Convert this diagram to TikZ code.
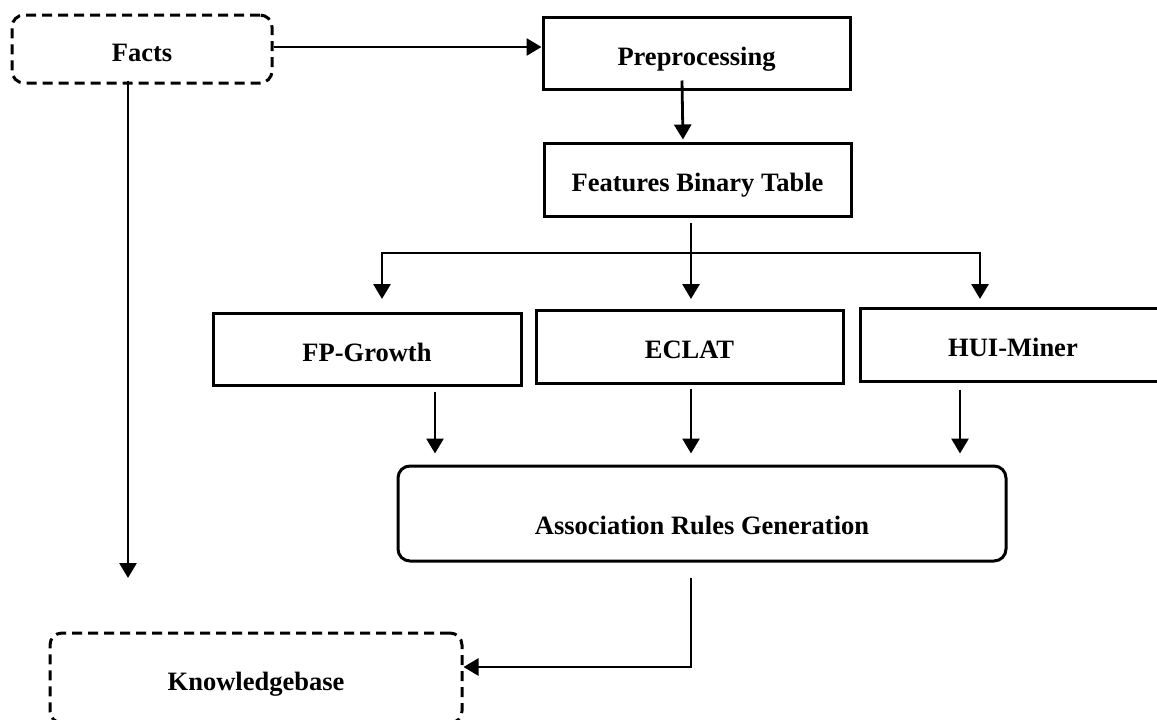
\documentclass[tikz,border=0pt]{standalone}
\usepackage{fontspec}
\setmainfont{Liberation Serif}
\usetikzlibrary{arrows.meta,calc}
\begin{document}
\begin{tikzpicture}[x=1pt,y=-1pt,
  every node/.style={font=\fontsize{26.5}{30}\selectfont\bfseries,text height=24pt,text depth=0pt},
  box/.style={draw,line width=3pt,rectangle,inner sep=0pt},
  dbox/.style={box,rounded corners=12pt,dash pattern=on 10pt off 6pt},
  rbox/.style={box,rounded corners=12pt},
  line/.style={line width=2.8pt},
  arr/.style={line,-{Triangle[length=15pt,width=17pt]}}]
\useasboundingbox (0,0) rectangle (1157,720);
% nodes
\node[dbox,minimum width=260pt,minimum height=68pt] (facts) at (142,49) {Facts};
\node[box,minimum width=307pt,minimum height=72pt] (pre) at (696.5,53) {Preprocessing};
\node[box,minimum width=307pt,minimum height=73pt] (fbt) at (697.5,179.5) {Features Binary Table};
\node[box,minimum width=308pt,minimum height=72pt] (fp) at (367,349) {FP-Growth};
\node[box,minimum width=307pt,minimum height=73pt] (eclat) at (689.5,346.5) {ECLAT};
\node[box,minimum width=306pt,minimum height=73pt] (hui) at (1013,344.5) {HUI-Miner};
\node[rbox,minimum width=608pt,minimum height=95pt,
  label={[yshift=-9pt]center:Association Rules Generation}] (assoc) at (702,513.5) {};
\node[dbox,minimum width=412pt,minimum height=90pt] (kb) at (256,678) {Knowledgebase};
% free ends
\coordinate (j) at (691,253);
\coordinate (fpin) at (382,299);
\coordinate (ein) at (691,299);
\coordinate (huiin) at (980,299);
\coordinate (factsend) at (128,578);
% connectors
\draw[arr] ($(facts.east)+(0,-2)$) -- ($(pre.west)+(0,-6)$);
\draw[arr] ($(facts.south)+(-14,-4)$) -- (factsend);
\draw[arr,shorten >=2pt] ($(pre.south)+(-14.5,-10)$) -- ($(fbt.north)+(-14.5,0)$);
\draw[line] ($(fbt.south)+(-6.5,5)$) -- (j);
\draw[arr] (j) -- (ein);
\draw[arr] (j) -| (fpin);
\draw[arr] (j) -| (huiin);
\draw[arr] ($(fp.south)+(68,5)$) -- ($(assoc.north)+(-267,-11)$);
\draw[arr] ($(eclat.south)+(1.5,4)$) -- ($(assoc.north)+(-11,-11)$);
\draw[arr] ($(hui.south)+(-53,7)$) -- ($(assoc.north)+(258,-11)$);
\draw[arr] ($(assoc.south)+(-11,15)$) |- ($(kb.east)+(0,-11)$);
\end{tikzpicture}
\end{document}
